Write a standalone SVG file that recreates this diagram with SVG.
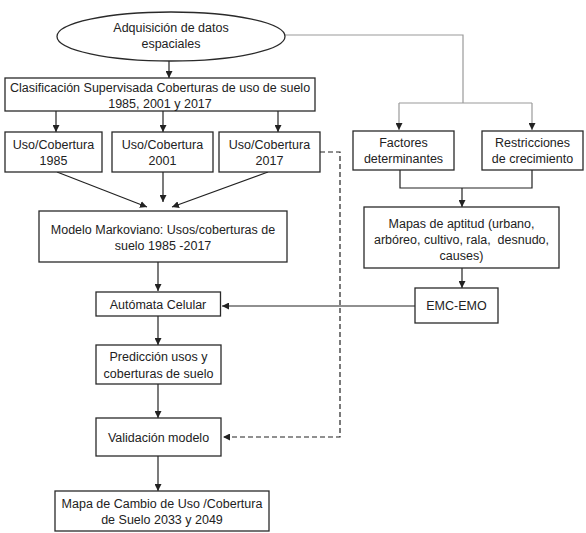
<svg xmlns="http://www.w3.org/2000/svg" width="586" height="533" viewBox="0 0 586 533">
<style>
.b{fill:#fff;stroke:#2a2a2a;stroke-width:1.3}
.t{font-family:"Liberation Sans",Arial,sans-serif;font-size:12.5px;fill:#222;text-anchor:middle}
.c{fill:none;stroke:#222;stroke-width:1.2}
.g{fill:none;stroke:#9a9a9a;stroke-width:1.2}
.d{fill:none;stroke:#222;stroke-width:1.2;stroke-dasharray:5,3}
</style>
<defs>
<marker id="a" viewBox="0 0 10 10" refX="10" refY="5" markerWidth="7" markerHeight="7" markerUnits="userSpaceOnUse" orient="auto"><path d="M0,0L10,5L0,10z" fill="#222"/></marker>
</defs>
<rect width="586" height="533" fill="#fff"/>
<g id="connectors">
<path class="g" d="M285,35H463V103"/>
<path class="g" d="M399,103H532"/>
<path class="g" d="M399,103V130" marker-end="url(#a)"/>
<path class="g" d="M532,103V130" marker-end="url(#a)"/>
<path class="c" d="M169,61V78" marker-end="url(#a)"/>
<path class="c" d="M56,111V132" marker-end="url(#a)"/>
<path class="c" d="M163,111V132" marker-end="url(#a)"/>
<path class="c" d="M278,111V132" marker-end="url(#a)"/>
<path class="c" d="M57,172L147,207" marker-end="url(#a)"/>
<path class="c" d="M163,172V202" marker-end="url(#a)"/>
<path class="c" d="M268,172L172,207" marker-end="url(#a)"/>
<path class="c" d="M158,262V291" marker-end="url(#a)"/>
<path class="c" d="M158,316V345" marker-end="url(#a)"/>
<path class="c" d="M158,384V418" marker-end="url(#a)"/>
<path class="c" d="M158,456V491" marker-end="url(#a)"/>
<path class="c" d="M400,170V188H532V170"/>
<path class="c" d="M462,188V207" marker-end="url(#a)"/>
<path class="c" d="M462,268V288" marker-end="url(#a)"/>
<path class="c" d="M415,306H222" marker-end="url(#a)"/>
<path class="d" d="M320,152H340V437H223" marker-end="url(#a)"/>
</g>
<g id="n-adq"><ellipse class="b" cx="171" cy="36.5" rx="114" ry="24.5"/><text class="t" x="171" y="32">Adquisición de datos</text><text class="t" x="171" y="48">espaciales</text></g>
<g id="n-clas"><rect class="b" x="5" y="78" width="310" height="33"/><text class="t" x="160" y="92">Clasificación Supervisada Coberturas de uso de suelo</text><text class="t" x="160" y="108">1985, 2001 y 2017</text></g>
<g id="n-u85"><rect class="b" x="5" y="132" width="97" height="40"/><text class="t" x="53.5" y="149">Uso/Cobertura</text><text class="t" x="53.5" y="165">1985</text></g>
<g id="n-u01"><rect class="b" x="112" y="132" width="101" height="40"/><text class="t" x="162.5" y="149">Uso/Cobertura</text><text class="t" x="162.5" y="165">2001</text></g>
<g id="n-u17"><rect class="b" x="219" y="132" width="101" height="40"/><text class="t" x="269.5" y="149">Uso/Cobertura</text><text class="t" x="269.5" y="165">2017</text></g>
<g id="n-fact"><rect class="b" x="353" y="131" width="101" height="39"/><text class="t" x="403.5" y="147">Factores</text><text class="t" x="403.5" y="163">determinantes</text></g>
<g id="n-rest"><rect class="b" x="482" y="131" width="101" height="39"/><text class="t" x="532.5" y="147">Restricciones</text><text class="t" x="532.5" y="163">de crecimiento</text></g>
<g id="n-mark"><rect class="b" x="39" y="211" width="248" height="51"/><text class="t" x="163" y="234">Modelo Markoviano: Usos/coberturas de</text><text class="t" x="163" y="250">suelo 1985 -2017</text></g>
<g id="n-mapas"><rect class="b" x="364" y="207" width="195" height="61"/><text class="t" x="461.5" y="228">Mapas de aptitud (urbano,</text><text class="t" x="461.5" y="244">arbóreo, cultivo, rala,&#160; desnudo,</text><text class="t" x="461.5" y="260">causes)</text></g>
<g id="n-auto"><rect class="b" x="96" y="292" width="124.5" height="24"/><text class="t" x="158" y="308.5">Autómata Celular</text></g>
<g id="n-emc"><rect class="b" x="415" y="288" width="83" height="35"/><text class="t" x="456.5" y="310">EMC-EMO</text></g>
<g id="n-pred"><rect class="b" x="96" y="345" width="125" height="39"/><text class="t" x="158.5" y="361">Predicción usos y</text><text class="t" x="158.5" y="378">coberturas de suelo</text></g>
<g id="n-val"><rect class="b" x="96" y="418" width="125" height="38"/><text class="t" x="158.5" y="442">Validación modelo</text></g>
<g id="n-final"><rect class="b" x="55" y="491" width="214" height="40"/><text class="t" x="162" y="508">Mapa de Cambio de Uso /Cobertura</text><text class="t" x="162" y="524">de Suelo 2033 y 2049</text></g>
</svg>
